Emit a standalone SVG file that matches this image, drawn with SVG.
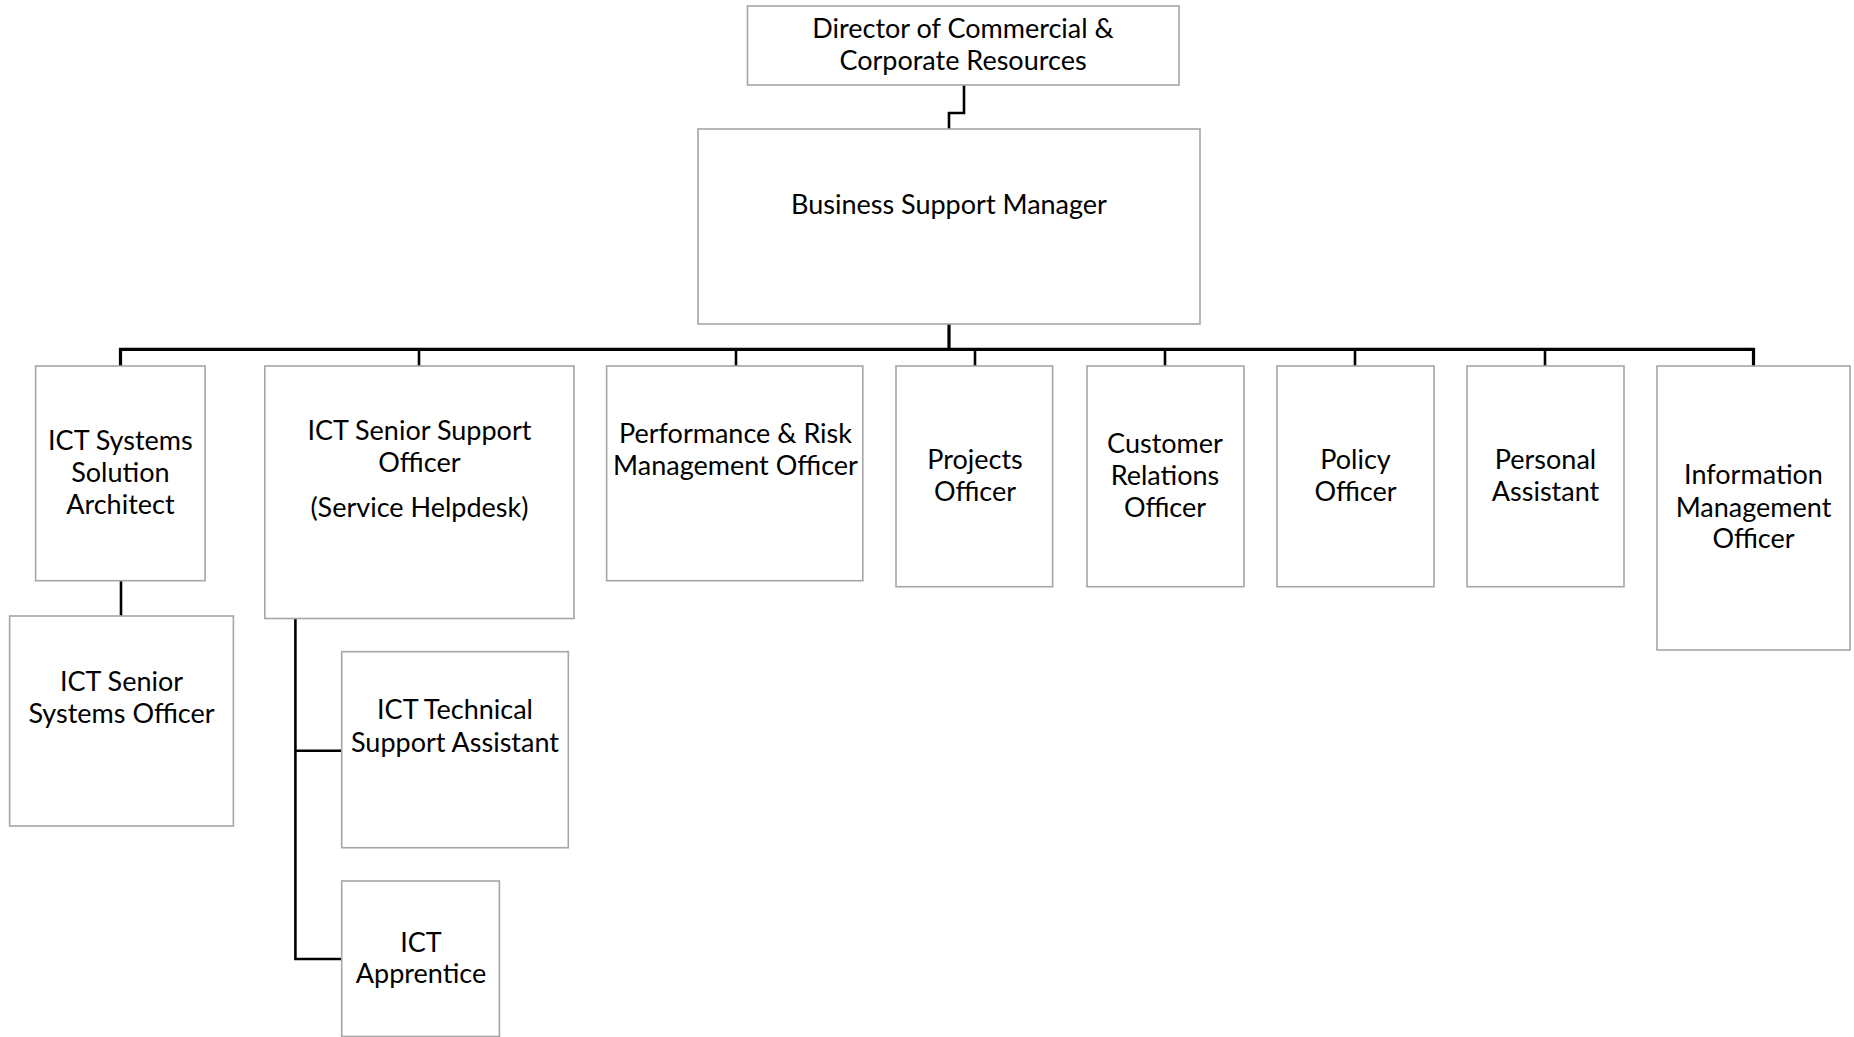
<svg xmlns="http://www.w3.org/2000/svg" width="1854" height="1037" viewBox="0 0 1854 1037">
<style>
.box{fill:#ffffff;stroke:#a6a6a6;stroke-width:1.6}
.t{font-family:Lato,"Liberation Sans",sans-serif;font-size:27px;fill:#000000;text-anchor:middle}
.c{fill:none;stroke:#000000;stroke-width:2.6}
.bus{fill:none;stroke:#000000;stroke-width:3.2}
</style>
<rect width="1854" height="1037" fill="#ffffff"/>
<g id="connectors">
<path class="c" d="M964 85 V113 H949 V129"/>
<path class="bus" d="M949 324 V349"/>
<path class="bus" d="M120.5 366 V349.3 H1753.5 V366"/>
<path class="c" d="M419 349 V366"/>
<path class="c" d="M736 349 V366"/>
<path class="c" d="M975 349 V366"/>
<path class="c" d="M1165 349 V366"/>
<path class="c" d="M1355 349 V366"/>
<path class="c" d="M1545 349 V366"/>
<path class="c" d="M121 580.7 V616"/>
<path class="c" d="M295.4 618.7 V959 H341.7"/>
<path class="c" d="M295.4 750.7 H341.7"/>
</g>
<g id="director">
<rect class="box" x="747.5" y="6" width="431.5" height="79"/>
<text class="t" x="963" y="37.5">Director of Commercial &amp;</text>
<text class="t" x="963" y="69.5">Corporate Resources</text>
</g>
<g id="bsm">
<rect class="box" x="698" y="129" width="502" height="195"/>
<text class="t" x="949" y="214">Business Support Manager</text>
</g>
<g id="ict-architect">
<rect class="box" x="35.6" y="366" width="169.5" height="214.7"/>
<text class="t" x="120.4" y="450">ICT Systems</text>
<text class="t" x="120.4" y="482">Solution</text>
<text class="t" x="120.4" y="514">Architect</text>
</g>
<g id="ict-senior-support">
<rect class="box" x="264.8" y="366" width="309.2" height="252.5"/>
<text class="t" x="419.4" y="439.5">ICT Senior Support</text>
<text class="t" x="419.4" y="472">Officer</text>
<text class="t" x="419.4" y="516.5">(Service Helpdesk)</text>
</g>
<g id="ict-senior-systems">
<rect class="box" x="9.6" y="616" width="223.8" height="210"/>
<text class="t" x="121.5" y="691">ICT Senior</text>
<text class="t" x="121.5" y="722.7">Systems Officer</text>
</g>
<g id="ict-tech-support">
<rect class="box" x="341.7" y="651.7" width="226.6" height="196"/>
<text class="t" x="455" y="719.3">ICT Technical</text>
<text class="t" x="455" y="751.7">Support Assistant</text>
</g>
<g id="ict-apprentice">
<rect class="box" x="341.7" y="881" width="157.7" height="155.5"/>
<text class="t" x="421" y="951.7">ICT</text>
<text class="t" x="421" y="983.3">Apprentice</text>
</g>
<g id="perf-risk">
<rect class="box" x="606.6" y="366" width="256.2" height="214.7"/>
<text class="t" x="735.5" y="443.3">Performance &amp; Risk</text>
<text class="t" x="735.5" y="475">Management Officer</text>
</g>
<g id="projects">
<rect class="box" x="896" y="366" width="156.6" height="220.7"/>
<text class="t" x="975" y="468.5">Projects</text>
<text class="t" x="975" y="500.5">Officer</text>
</g>
<g id="customer">
<rect class="box" x="1087" y="366" width="157" height="220.7"/>
<text class="t" x="1165" y="453.3">Customer</text>
<text class="t" x="1165" y="485">Relations</text>
<text class="t" x="1165" y="517.3">Officer</text>
</g>
<g id="policy">
<rect class="box" x="1277" y="366" width="157" height="220.7"/>
<text class="t" x="1355.5" y="469">Policy</text>
<text class="t" x="1355.5" y="500.7">Officer</text>
</g>
<g id="personal">
<rect class="box" x="1467" y="366" width="157" height="220.7"/>
<text class="t" x="1545.5" y="469">Personal</text>
<text class="t" x="1545.5" y="500.7">Assistant</text>
</g>
<g id="info-mgmt">
<rect class="box" x="1657" y="366" width="193" height="284"/>
<text class="t" x="1753.5" y="484">Information</text>
<text class="t" x="1753.5" y="516.7">Management</text>
<text class="t" x="1753.5" y="548.3">Officer</text>
</g>
</svg>
